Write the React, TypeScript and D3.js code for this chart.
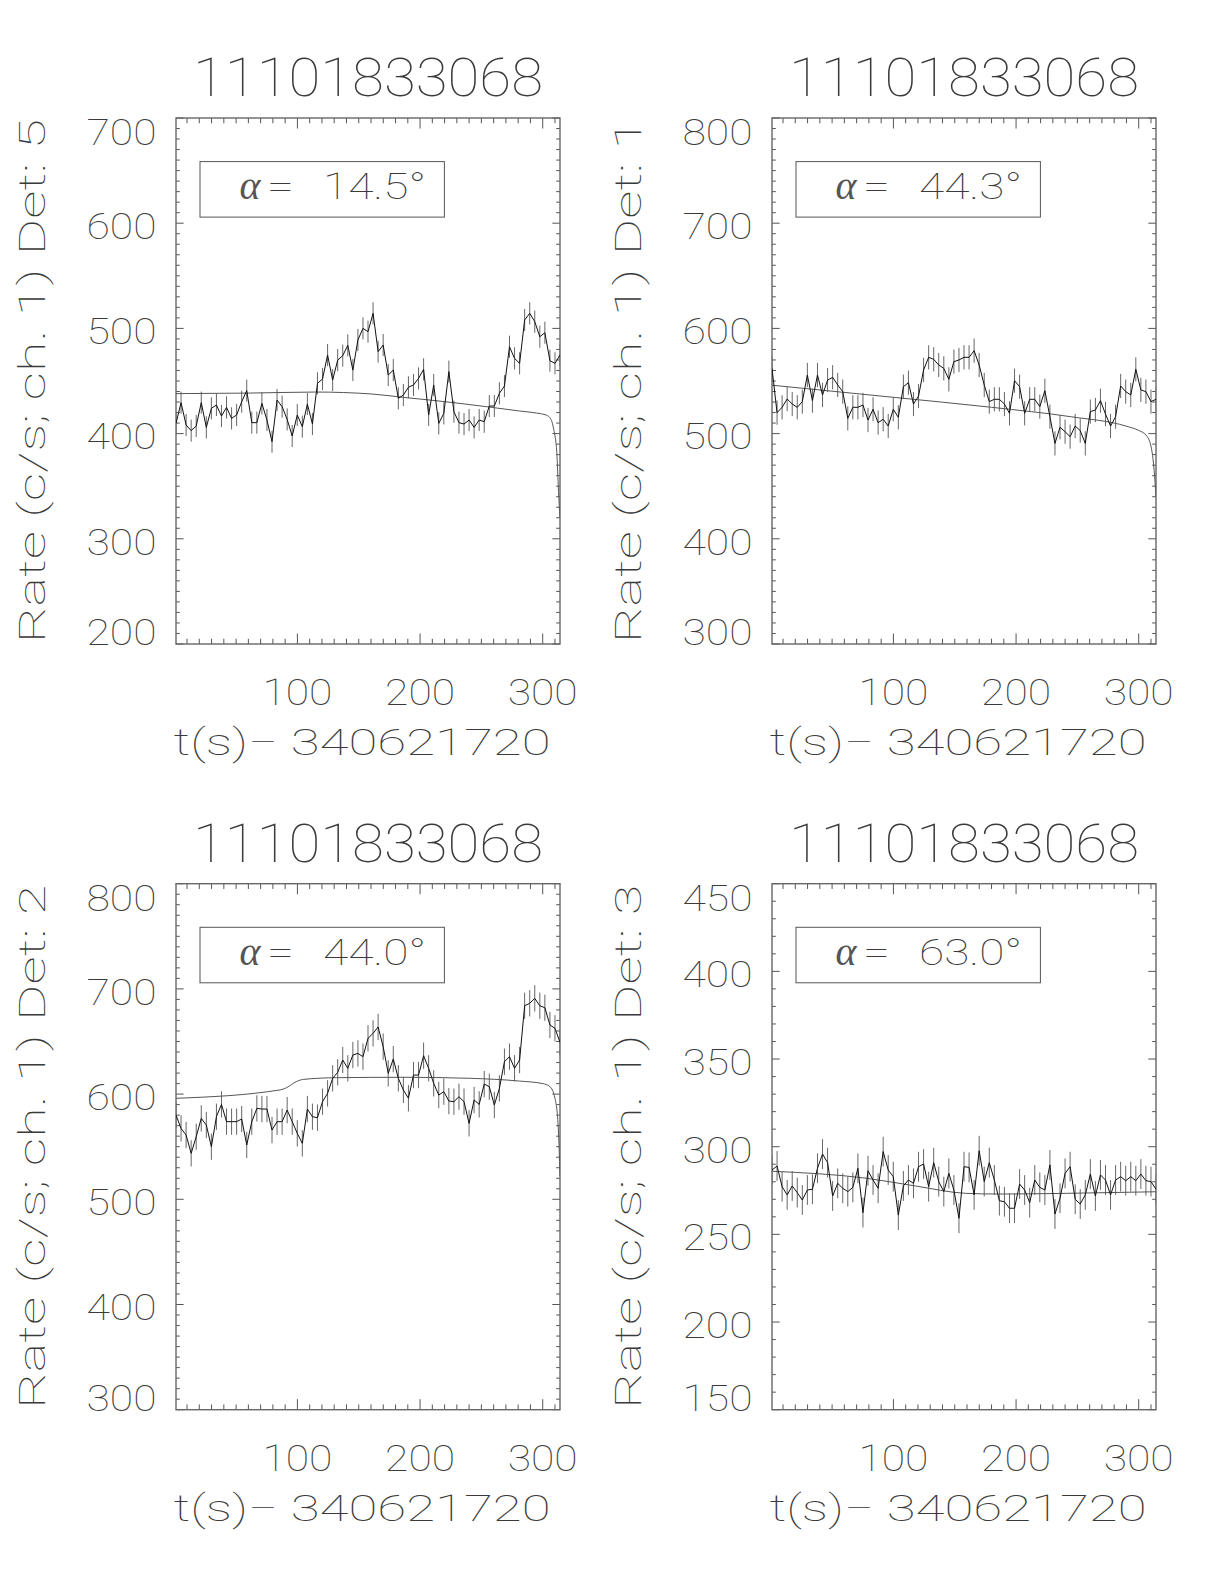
import React from 'react';
import * as d3 from 'd3';

// ---------- data ----------
const TITLE = '11101833068';
const X_LABEL = 't(s)\u2212 340621720';
const DETECTORS = [5, 1, 2, 3];
const ALPHAS = ['14.5', '44.3', '44.0', '63.0'];
const T_START = 1.0;
const T_BIN = 4.12;
const X_DOMAIN = [1, 314.1];
const X_TICKS = [100, 200, 300];

const RATE_DET5 = [
  409.7, 429.4, 408.2, 402.8, 407.2, 429.4, 405.9, 424.0, 427.2, 416.7,
  424.9, 414.5, 417.7, 430.3, 440.8, 410.4, 410.4, 428.7, 412.9, 392.3,
  431.9, 425.6, 413.5, 397.7, 417.7, 406.6, 428.1, 409.1, 447.8, 451.9,
  474.7, 450.9, 469.9, 474.1, 483.9, 460.4, 489.0, 500.0, 496.9, 514.3,
  477.9, 484.2, 455.7, 460.4, 433.5, 436.7, 444.0, 446.2, 452.5, 461.1,
  417.7, 446.2, 409.7, 419.2, 458.9, 420.8, 410.4, 409.1, 412.9, 405.9,
  412.9, 411.3, 426.2, 426.2, 438.3, 445.2, 482.6, 471.5, 466.8, 508.0,
  514.3, 506.4, 492.1, 495.9, 469.3, 466.8, 474.7,
];
const RATE_DET1 = [
  562.0, 519.9, 525.0, 532.9, 528.1, 525.0, 530.4, 555.7, 531.3, 555.7,
  536.7, 550.9, 553.5, 546.2, 539.9, 514.5, 525.0, 525.0, 527.2, 512.9,
  523.1, 510.4, 513.6, 507.2, 523.1, 515.5, 544.6, 548.4, 528.1, 535.7,
  560.5, 572.5, 570.6, 565.2, 562.0, 551.6, 568.4, 570.0, 572.5, 572.5,
  578.8, 565.2, 546.2, 530.4, 532.6, 532.6, 528.1, 519.3, 550.3, 544.6,
  519.3, 532.6, 532.6, 525.6, 540.8, 516.1, 490.7, 506.0, 501.8, 497.1,
  507.2, 502.8, 490.7, 520.9, 522.4, 531.3, 518.6, 507.2, 516.1, 545.3,
  539.9, 536.7, 561.1, 541.5, 539.9, 530.4, 532.6,
];
const RATE_DET2 = [
  580.1, 567.4, 561.1, 543.7, 559.5, 576.9, 570.6, 550.0, 578.5, 590.2,
  573.8, 573.8, 573.8, 576.3, 551.6, 573.8, 586.4, 585.8, 585.8, 565.8,
  573.8, 573.8, 584.8, 573.8, 562.7, 553.2, 585.8, 578.5, 577.6, 592.8,
  600.7, 615.0, 620.7, 632.4, 624.5, 637.1, 638.7, 635.6, 653.0, 657.7,
  663.8, 645.1, 619.7, 633.3, 615.0, 603.9, 596.0, 618.1, 618.1, 636.5,
  624.5, 610.2, 599.1, 602.3, 593.4, 592.8, 597.5, 592.8, 572.2, 594.4,
  590.2, 609.6, 607.0, 589.6, 605.4, 630.8, 635.6, 624.5, 632.4, 684.0,
  686.3, 691.0, 684.0, 682.1, 665.7, 662.5, 649.2,
];
const RATE_DET3 = [
  286.7, 289.0, 277.2, 272.5, 277.6, 273.8, 269.6, 275.3, 275.7, 287.7,
  295.8, 290.9, 271.9, 279.1, 276.3, 274.4, 276.8, 287.7, 262.4, 286.3,
  281.0, 276.3, 297.2, 286.7, 282.9, 261.0, 277.6, 281.0, 279.1, 288.6,
  290.1, 277.2, 290.9, 280.1, 274.4, 284.8, 275.3, 259.2, 288.6, 288.2,
  272.5, 297.7, 280.1, 290.9, 281.0, 269.2, 268.6, 264.9, 264.9, 278.7,
  275.3, 268.1, 281.0, 276.8, 275.3, 289.6, 261.6, 270.6, 284.8, 288.6,
  270.0, 267.3, 272.5, 284.4, 271.9, 283.9, 281.0, 272.5, 281.0, 282.9,
  280.6, 282.9, 280.6, 284.4, 280.6, 280.1, 275.7,
];
const RATE_ERR = [10.5, 11.5, 12.5, 8.5];

const MODEL_DET5_T = [1, 60, 115, 160, 186, 213, 254, 281, 295, 303, 306, 309, 311.5, 312.9, 314.1];
const MODEL_DET5 = [438, 438.5, 439.5, 437.7, 434.5, 431.3, 425.6, 421.5, 419.5, 417.5, 415, 404, 382, 345, 320];
const MODEL_DET1_T = [1, 100, 180, 245, 290, 300, 306, 310, 312.6, 314.1];
const MODEL_DET1 = [546, 534.5, 525, 516, 507, 503, 498.5, 488, 465, 440];
const MODEL_DET2_T = [1, 86, 91, 99, 105, 132, 186, 241, 281, 300, 306, 310, 312.6, 314.1];
const MODEL_DET2 = [596, 604, 606, 611.8, 614, 615.6, 616, 615, 612.4, 610, 607, 596, 570, 522];
const MODEL_DET3_T = [1, 78, 118, 159, 186, 241, 314.1];
const MODEL_DET3 = [286, 282, 277.6, 273.4, 273, 273.4, 274.3];

const Y_DOMAINS = [[200, 700], [300, 800], [300, 800], [150, 450]];
const Y_MAJOR = [100, 100, 100, 50];

// ---------- layout ----------
const PANEL_LEFT = [176, 772, 176, 772];
const PANEL_TOP = [118, 118, 883.7, 883.7];
const PW = 384;
const PH = 526;
const FONT = "Roboto, 'DejaVu Sans', sans-serif";
const GREEK = "'Liberation Serif', 'DejaVu Serif', serif";
const TXT = '#3a3a3a';

const RATES = [RATE_DET5, RATE_DET1, RATE_DET2, RATE_DET3];
const MODEL_T = [MODEL_DET5_T, MODEL_DET1_T, MODEL_DET2_T, MODEL_DET3_T];
const MODEL_V = [MODEL_DET5, MODEL_DET1, MODEL_DET2, MODEL_DET3];

function Panel({ i }: { i: number }) {
  const L = PANEL_LEFT[i];
  const T = PANEL_TOP[i];
  const x = d3.scaleLinear().domain(X_DOMAIN).range([L, L + PW]);
  const y = d3.scaleLinear().domain(Y_DOMAINS[i]).range([T + PH, T]);
  const rates = RATES[i];
  const pts = rates.map((v, k) => ({ t: T_START + k * T_BIN, v }));
  const err = RATE_ERR[i];
  const line = d3.line<{ t: number; v: number }>().x(d => x(d.t)).y(d => y(d.v));
  const model = MODEL_T[i].map((t, k) => ({ t, v: MODEL_V[i][k] }));
  const modelLine = d3
    .line<{ t: number; v: number }>()
    .x(d => x(d.t))
    .y(d => y(d.v))
    .curve(d3.curveMonotoneX);

  const [y0, y1] = Y_DOMAINS[i];
  const major = Y_MAJOR[i];
  const yMajor = d3.range(y0, y1 + 0.001, major);
  const yMinor = d3.range(y0, y1 + 0.001, 10).filter(v => !yMajor.includes(v));
  const xMinor = d3.range(10, X_DOMAIN[1], 10).filter(v => !X_TICKS.includes(v));
  const xTL = 0.02 * PH;
  const yTL = 0.02 * PW;
  const clipId = `clip${i}`;

  const yLabelBaseline = (v: number, k: number) => {
    if (k === 0) return T + PH + 1;
    if (k === yMajor.length - 1) return T + 27;
    return y(v) + 15.8;
  };

  return (
    <g>
      <defs>
        <clipPath id={clipId}>
          <rect x={L} y={T} width={PW} height={PH} />
        </clipPath>
      </defs>
      {/* title */}
      <text x={L + PW / 2} y={T - 22} textAnchor="middle" fontFamily={FONT} fontWeight={100}
        fontSize={54} fill={TXT} textLength={350} lengthAdjust="spacingAndGlyphs">{TITLE}</text>
      {/* y label */}
      <text transform={`translate(${L - 131},${T + PH / 2}) rotate(-90)`} textAnchor="middle"
        fontFamily={FONT} fontWeight={100} fontSize={36} fill={TXT} textLength={524}
        lengthAdjust="spacingAndGlyphs">{`Rate (c/s; ch. 1) Det: ${DETECTORS[i]}`}</text>
      {/* x label */}
      <text x={L + PW / 2 - 6} y={T + PH + 111} textAnchor="middle" fontFamily={FONT} fontWeight={100}
        fontSize={36} fill={TXT} textLength={377} lengthAdjust="spacingAndGlyphs">{X_LABEL}</text>
      {/* y tick labels */}
      {yMajor.map((v, k) => (
        <text key={`yl${v}`} x={L - 19.5} y={yLabelBaseline(v, k)} textAnchor="end" fontFamily={FONT}
          fontWeight={100} fontSize={36} fill={TXT} textLength={70}
          lengthAdjust="spacingAndGlyphs">{String(v)}</text>
      ))}
      {/* x tick labels */}
      {X_TICKS.map(v => (
        <text key={`xl${v}`} x={x(v)} y={T + PH + 61} textAnchor="middle" fontFamily={FONT}
          fontWeight={100} fontSize={36} fill={TXT} textLength={70}
          lengthAdjust="spacingAndGlyphs">{String(v)}</text>
      ))}
      {/* ticks */}
      <g stroke="#555" strokeWidth={1}>
        {X_TICKS.map(v => (
          <g key={`xt${v}`}>
            <line x1={x(v)} x2={x(v)} y1={T + PH} y2={T + PH - xTL} />
            <line x1={x(v)} x2={x(v)} y1={T} y2={T + xTL} />
          </g>
        ))}
        {xMinor.map(v => (
          <g key={`xm${v}`}>
            <line x1={x(v)} x2={x(v)} y1={T + PH} y2={T + PH - xTL / 2} />
            <line x1={x(v)} x2={x(v)} y1={T} y2={T + xTL / 2} />
          </g>
        ))}
        {yMajor.map(v => (
          <g key={`yt${v}`}>
            <line x1={L} x2={L + yTL} y1={y(v)} y2={y(v)} />
            <line x1={L + PW} x2={L + PW - yTL} y1={y(v)} y2={y(v)} />
          </g>
        ))}
        {yMinor.map(v => (
          <g key={`ym${v}`}>
            <line x1={L} x2={L + yTL / 2} y1={y(v)} y2={y(v)} />
            <line x1={L + PW} x2={L + PW - yTL / 2} y1={y(v)} y2={y(v)} />
          </g>
        ))}
      </g>
      {/* frame */}
      <rect x={L} y={T} width={PW} height={PH} fill="none" stroke="#666" strokeWidth={1.4} />
      {/* alpha box */}
      <rect x={L + 24} y={T + 43.6} width={244.4} height={55.5} fill="none" stroke="#555" strokeWidth={1} />
      <text x={L + 74} y={T + 81} textAnchor="middle" fontFamily={GREEK} fontWeight={400}
        fontStyle="italic" fontSize={40} fill="#555">{'\u03B1'}</text>
      <text x={L + 91} y={T + 81} textAnchor="start" fontFamily={FONT} fontWeight={100}
        fontSize={36} fill={TXT} textLength={27} lengthAdjust="spacingAndGlyphs">=</text>
      <text x={L + 147} y={T + 81} textAnchor="start" fontFamily={FONT} fontWeight={100}
        fontSize={36} fill={TXT} textLength={103} lengthAdjust="spacingAndGlyphs">{`${ALPHAS[i]}\u00B0`}</text>
      {/* data */}
      <g clipPath={`url(#${clipId})`}>
        <g stroke="#666" strokeWidth={1}>
          {pts.map((p, k) => (
            <line key={`e${k}`} x1={x(p.t)} x2={x(p.t)} y1={y(p.v - err)} y2={y(p.v + err)} />
          ))}
        </g>
        <path d={modelLine(model) || ''} fill="none" stroke="#555" strokeWidth={1} />
        <path d={line(pts) || ''} fill="none" stroke="#111" strokeWidth={1} />
      </g>
    </g>
  );
}

export default function App() {
  return (
    <svg width={1224} height={1584} viewBox="0 0 1224 1584"
      style={{ position: 'absolute', left: 0, top: 0, display: 'block', background: '#fff' }}>
      <rect x={0} y={0} width={1224} height={1584} fill="#fff" />
      {[0, 1, 2, 3].map(i => (
        <Panel key={i} i={i} />
      ))}
    </svg>
  );
}
